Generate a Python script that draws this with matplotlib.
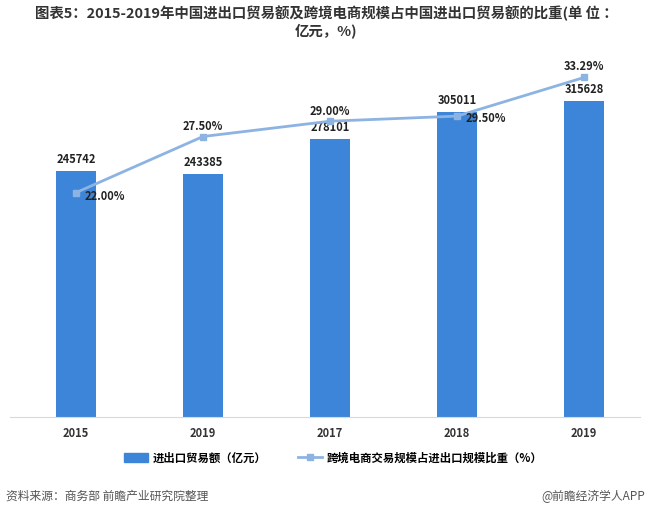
import numpy as np
import matplotlib.pyplot as plt

plt.rcParams['font.family'] = ['Noto Sans CJK SC', 'DejaVu Sans']

# %% data
years = ['2015', '2019', '2017', '2018', '2019']
trade = [245742, 243385, 278101, 305011, 315628]
share = [22.00, 27.50, 29.00, 29.50, 33.29]

bar_color = '#3d85d8'
line_color = '#8db3e2'

# %% figure
fig = plt.figure(figsize=(6.5, 5.16), dpi=100)
ax = fig.add_axes([10 / 650, (516 - 417) / 516, 630 / 650, 357 / 516])
x = np.arange(len(years))

ax.bar(x, trade, width=0.31, color=bar_color, zorder=2)
for xi, v in zip(x, trade):
    ax.text(xi, v + 5000, str(v), ha='center', va='bottom',
            fontsize=8, fontweight='bold', color='#222222', zorder=5)

ax.set_xlim(-0.52, 4.44)
ax.set_ylim(0, 357000)
ax.set_yticks([])
ax.set_xticks(x)
ax.set_xticklabels(years, fontsize=8, fontweight='bold', color='#333333')
ax.tick_params(axis='x', length=0, pad=7)
for s in ['top', 'left', 'right']:
    ax.spines[s].set_visible(False)
ax.spines['bottom'].set_color('#d9d9d9')

# secondary axis for the share line
ax2 = ax.twinx()
ax2.set_ylim(0, 35)
ax2.set_yticks([])
for s in ['top', 'left', 'right', 'bottom']:
    ax2.spines[s].set_visible(False)
ax2.plot(x, share, color=line_color, lw=2, marker='s', ms=5, zorder=3)

# percentage labels: offsets in points
offsets = [(6, -3, 'left'), (0, 7, 'center'), (0, 7, 'center'),
           (6, -2, 'left'), (0, 8, 'center')]
for xi, v, (dx, dy, ha) in zip(x, share, offsets):
    ax2.annotate('%.2f%%' % v, (xi, v), xytext=(dx, dy),
                 textcoords='offset points', ha=ha, va='center',
                 fontsize=8, fontweight='bold', color='#222222', zorder=6)

# legend
h1 = plt.Rectangle((0, 0), 1, 1, color=bar_color)
h2, = ax2.plot([], [], color=line_color, lw=2, marker='s', ms=4)
fig.legend([h1, h2], ['进出口贸易额（亿元）', '跨境电商交易规模占进出口规模比重（%）'],
           loc='center', bbox_to_anchor=(333 / 650, (516 - 458) / 516), ncol=2,
           frameon=False, prop={'size': 8.2, 'weight': 'bold'},
           handlelength=2.1, handleheight=0.8, columnspacing=2.8,
           handletextpad=0.4)

# title and footer
fig.text(326 / 650, (516 - 22) / 516,
         '图表5：2015-2019年中国进出口贸易额及跨境电商规模占中国进出口贸易额的比重(单 位 ：\n亿元，%)',
         ha='center', va='center', fontsize=10.4, fontweight='bold',
         color='#333333', linespacing=1.15)
fig.text(6 / 650, (516 - 496) / 516, '资料来源：商务部 前瞻产业研究院整理',
         ha='left', va='center', fontsize=8.5, color='#555555')
fig.text(645 / 650, (516 - 496) / 516, '@前瞻经济学人APP',
         ha='right', va='center', fontsize=8.5, color='#555555')

fig.savefig('out.png', dpi=100)
